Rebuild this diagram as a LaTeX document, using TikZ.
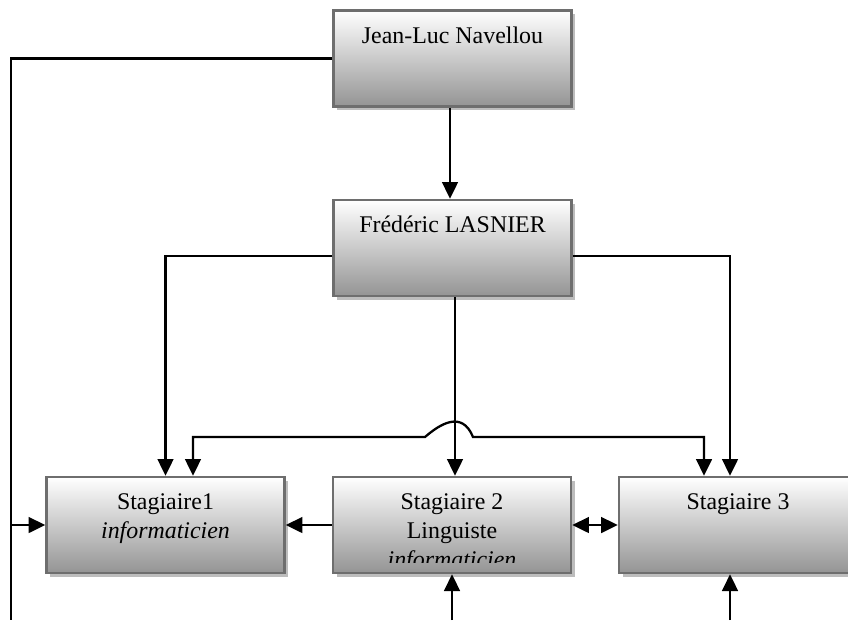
\documentclass[tikz,border=0pt]{standalone}
\usepackage{fontspec}
\setmainfont{Liberation Serif}
\usetikzlibrary{arrows.meta,shadows}
\definecolor{boxedge}{HTML}{6E6E6E}
\definecolor{boxshade}{HTML}{BDBDBD}
\definecolor{boxbottom}{HTML}{949494}
\tikzset{
  orgbox/.style={draw=boxedge, line width=1.5pt, top color=white, bottom color=boxbottom,
    minimum width=4.76cm, minimum height=1.92cm, inner sep=0pt,
    drop shadow={shadow xshift=2.2pt, shadow yshift=-2.2pt, fill=boxshade, opacity=1}},
  boxtext/.style={anchor=north, align=center, inner sep=0pt, font=\fontsize{13.6}{16.5}\selectfont},
  link/.style={line width=1.3pt, black},
  tip/.tip={Triangle[length=9.5pt,width=9pt]},
  arr/.style={link, -tip},
  darr/.style={link, tip-tip},
}
\begin{document}
\begin{tikzpicture}[x=0.02cm, y=-0.02cm]
\useasboundingbox (0,0) rectangle (848,620);
\clip (0,0) rectangle (848,620);

% boxes
\node[orgbox] (jl) at (452.5,58.5) {};
\node[orgbox] (fl) at (452.5,248) {};
\node[orgbox] (s1) at (165.5,525) {};
\node[orgbox] (s2) at (452,525) {};
\node[orgbox] (s3) at (738,525) {};

% box labels
\node[boxtext] (jlt) at ([yshift=-7.7pt]jl.north) {\strut Jean-Luc Navellou};
\node[boxtext] (flt) at ([yshift=-7.7pt]fl.north) {\strut Frédéric LASNIER};
\node[boxtext] (s1t) at ([yshift=-7.7pt]s1.north) {\strut Stagiaire1\\\strut\textit{informaticien}};
\begin{scope}
  \clip (333,477) rectangle (571,562);
  \node[boxtext] (s2t) at ([yshift=-7.7pt]s2.north) {\strut Stagiaire 2\\\strut Linguiste\\\strut\textit{informaticien}};
\end{scope}
\node[boxtext] (s3t) at ([yshift=-7.7pt]s3.north) {\strut Stagiaire 3};

% connectors
\coordinate (lb) at (11,620);
\draw[link] (jl.west) -| (lb);
\draw[arr] (lb |- s1.west) -- (s1.west);
\draw[arr] ([xshift=-0.05cm]jl.south) -- ([xshift=-0.05cm]fl.north);
\draw[arr] ([yshift=-0.16cm]fl.west) -| (s1.north);
\draw[arr] ([yshift=-0.16cm]fl.east) -| ([xshift=-0.16cm]s3.north);
\draw[arr] ([xshift=0.05cm]fl.south) -- ([xshift=0.05cm]fl.south |- s2.north);
\coordinate (hl) at (425,437);
\coordinate (hr) at (473,437);
\draw[darr] ([xshift=0.55cm]s1.north) |- (hl) .. controls (440,424) and (462,410) .. (hr) -| ([xshift=-0.68cm]s3.north);
\draw[arr] (s2.west) -- (s1.east);
\draw[darr] (s2.east) -- (s3.west);
\coordinate (b2) at (452,620);
\coordinate (b3) at (730,620);
\draw[arr] (b2) -- (s2.south);
\draw[arr] (b3) -- (b3 |- s3.south);
\end{tikzpicture}
\end{document}
